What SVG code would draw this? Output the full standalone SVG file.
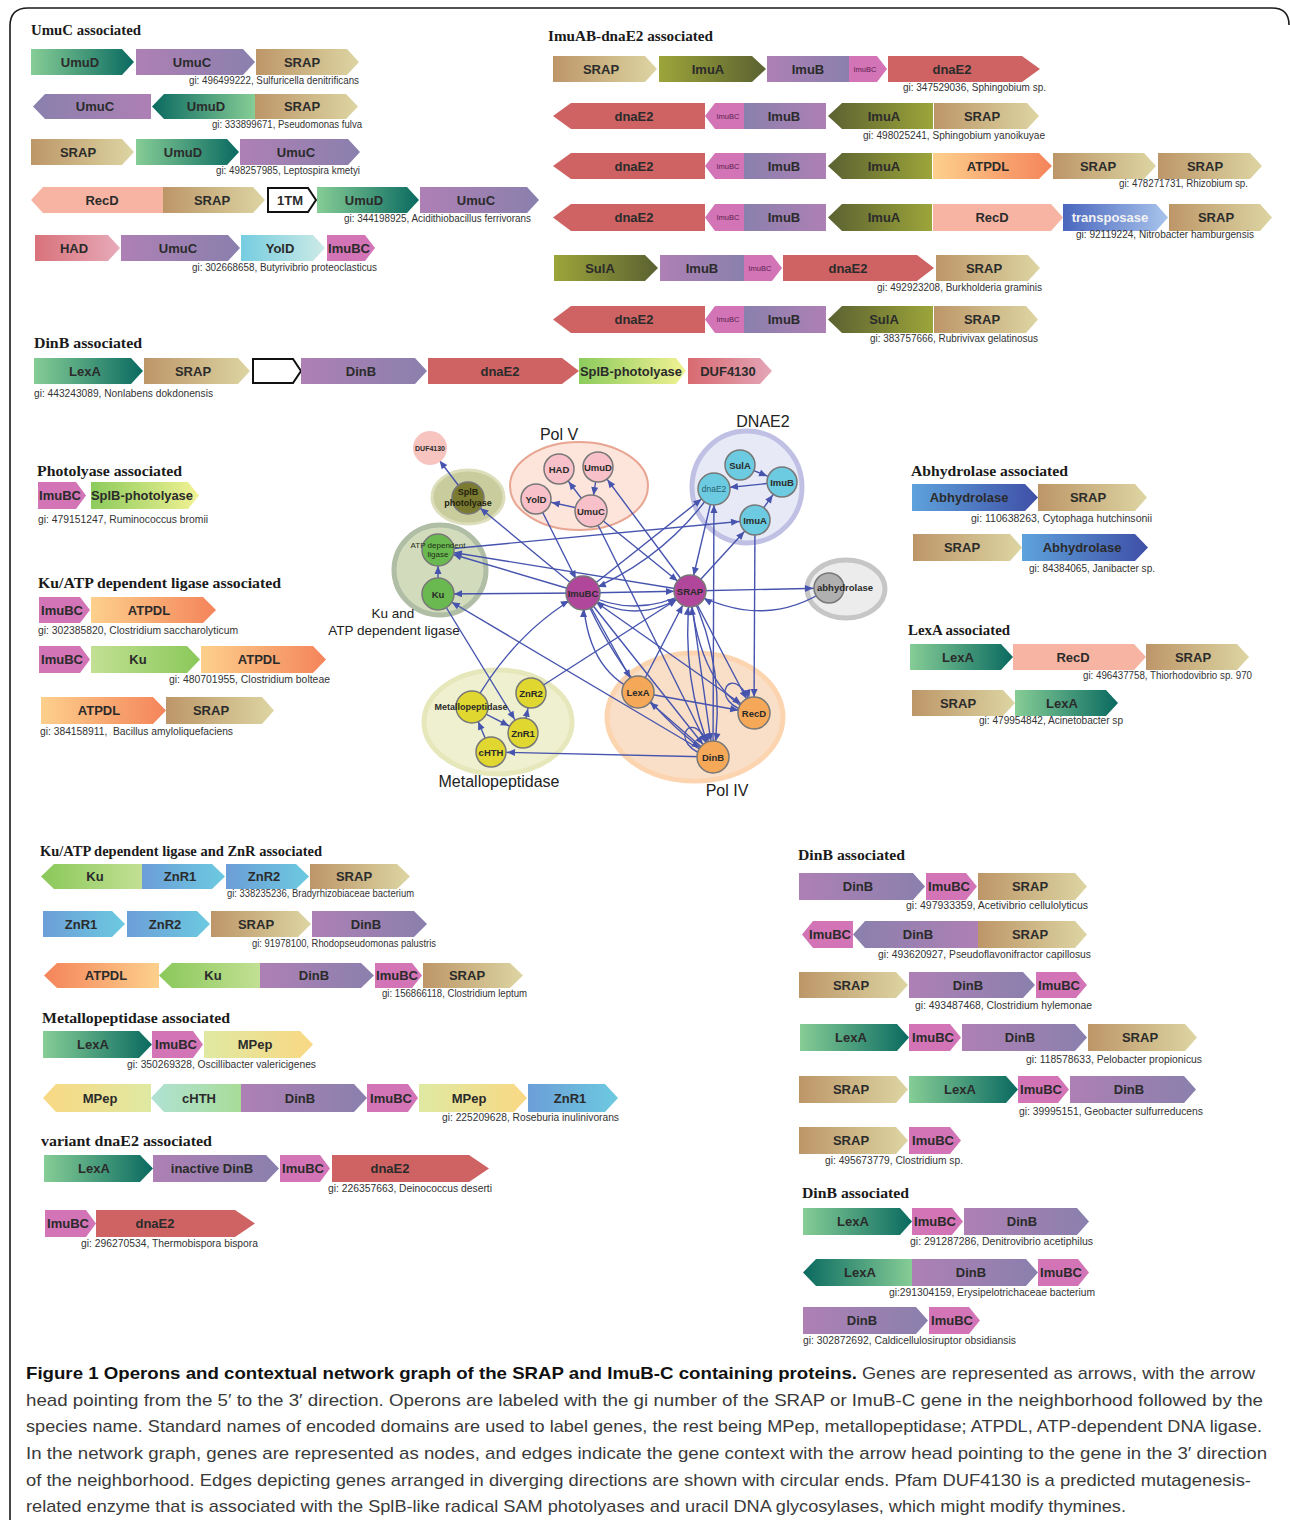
<svg xmlns="http://www.w3.org/2000/svg" width="1290" height="1520" viewBox="0 0 1290 1520">
<defs>
<linearGradient id="gLexR"><stop offset="0" stop-color="#86cd96"/><stop offset="1" stop-color="#0a6a60"/></linearGradient>
<linearGradient id="gLexL"><stop offset="0" stop-color="#0a6a60"/><stop offset="1" stop-color="#86cd96"/></linearGradient>
<linearGradient id="gPurR"><stop offset="0" stop-color="#ae80b5"/><stop offset="1" stop-color="#8a80ad"/></linearGradient>
<linearGradient id="gPurL"><stop offset="0" stop-color="#8a80ad"/><stop offset="1" stop-color="#ae80b5"/></linearGradient>
<linearGradient id="gSrap"><stop offset="0" stop-color="#bd9668"/><stop offset="1" stop-color="#ddd5a3"/></linearGradient>
<linearGradient id="gHad"><stop offset="0" stop-color="#d9727a"/><stop offset="1" stop-color="#e7aab9"/></linearGradient>
<linearGradient id="gDuf"><stop offset="0" stop-color="#d86a70"/><stop offset="1" stop-color="#e4a6b8"/></linearGradient>
<linearGradient id="gYold"><stop offset="0" stop-color="#75cde0"/><stop offset="1" stop-color="#cdeae6"/></linearGradient>
<linearGradient id="gOlvR"><stop offset="0" stop-color="#9ca53a"/><stop offset="1" stop-color="#5b6131"/></linearGradient>
<linearGradient id="gOlvL"><stop offset="0" stop-color="#5b6131"/><stop offset="1" stop-color="#9ca53a"/></linearGradient>
<linearGradient id="gAtpR"><stop offset="0" stop-color="#fdd08c"/><stop offset="1" stop-color="#f4845a"/></linearGradient>
<linearGradient id="gAtpL"><stop offset="0" stop-color="#f4845a"/><stop offset="1" stop-color="#fdd08c"/></linearGradient>
<linearGradient id="gTrans"><stop offset="0" stop-color="#4a66be"/><stop offset="1" stop-color="#a8c4ec"/></linearGradient>
<linearGradient id="gSplb"><stop offset="0" stop-color="#8ccb5c"/><stop offset="1" stop-color="#f2f294"/></linearGradient>
<linearGradient id="gAbh"><stop offset="0" stop-color="#5ea2dc"/><stop offset="1" stop-color="#3f4fa6"/></linearGradient>
<linearGradient id="gKuR"><stop offset="0" stop-color="#c2e093"/><stop offset="1" stop-color="#8ac85a"/></linearGradient>
<linearGradient id="gKuL"><stop offset="0" stop-color="#8ac85a"/><stop offset="1" stop-color="#c2e093"/></linearGradient>
<linearGradient id="gZnr"><stop offset="0" stop-color="#6c9ed8"/><stop offset="1" stop-color="#6ccae0"/></linearGradient>
<linearGradient id="gMpR"><stop offset="0" stop-color="#dfe9a2"/><stop offset="1" stop-color="#f9d884"/></linearGradient>
<linearGradient id="gMpL"><stop offset="0" stop-color="#f9d884"/><stop offset="1" stop-color="#dfe9a2"/></linearGradient>
<linearGradient id="gChth"><stop offset="0" stop-color="#b0e2d4"/><stop offset="1" stop-color="#a8dc98"/></linearGradient>
<marker id="ah" markerUnits="userSpaceOnUse" markerWidth="8" markerHeight="7" refX="24" refY="3.5" orient="auto" overflow="visible"><path d="M0,0 L8,3.5 L0,7 Z" fill="#4654ae"/></marker>
<style>
.gl{font-family:"Liberation Sans",Arial,sans-serif;font-weight:bold;font-size:13px;fill:#2b2b2b;text-anchor:middle}
.gs{font-family:"Liberation Sans",Arial,sans-serif;font-size:7.5px;fill:#5b2350;text-anchor:middle}
.gw{fill:#f2f2f2}
.gi{font-family:"Liberation Sans",Arial,sans-serif;font-size:10px;fill:#333}
.tt{font-family:"Liberation Serif","Times New Roman",serif;font-weight:bold;font-size:15px;fill:#1a1a1a}
.ib{fill:#d274b5}
.dn{fill:#cf6363}
.rd{fill:#f8b4a3}
.em{fill:#fff;stroke:#111;stroke-width:2}
.e{stroke:#4654ae;stroke-width:1.4;fill:none;marker-end:url(#ah)}
.nd{stroke:#777;stroke-width:1.5}
.nl{font-family:"Liberation Sans",Arial,sans-serif;font-weight:bold;font-size:9.5px;fill:#2a2a2a;text-anchor:middle}
.bl{font-family:"Liberation Sans",Arial,sans-serif;font-size:16px;fill:#222;text-anchor:middle}
.cap{font-family:"Liberation Sans",Arial,sans-serif;font-size:17px;fill:#3a3a3a}
.capb{font-family:"Liberation Sans",Arial,sans-serif;font-size:17px;font-weight:bold;fill:#111}
</style>
</defs>
<rect width="1290" height="1520" fill="#fff"/>
<path d="M10,1520 V26 Q10,8 28,8 H1272 Q1289,8 1289,25" fill="none" stroke="#1a1a1a" stroke-width="1.6"/>

<!-- Titles -->
<g id="titles">
<text class="tt" x="31" y="35" textLength="110" lengthAdjust="spacingAndGlyphs">UmuC associated</text>
<text class="tt" x="548" y="41" textLength="165" lengthAdjust="spacingAndGlyphs">ImuAB-dnaE2 associated</text>
<text class="tt" x="34" y="348" textLength="108" lengthAdjust="spacingAndGlyphs">DinB associated</text>
<text class="tt" x="37" y="476" textLength="145" lengthAdjust="spacingAndGlyphs">Photolyase associated</text>
<text class="tt" x="38" y="588" textLength="243" lengthAdjust="spacingAndGlyphs">Ku/ATP dependent ligase associated</text>
<text class="tt" x="911" y="476" textLength="157" lengthAdjust="spacingAndGlyphs">Abhydrolase associated</text>
<text class="tt" x="908" y="635" textLength="102" lengthAdjust="spacingAndGlyphs">LexA associated</text>
<text class="tt" x="40" y="856" textLength="282" lengthAdjust="spacingAndGlyphs">Ku/ATP dependent ligase and ZnR associated</text>
<text class="tt" x="42" y="1023" textLength="188" lengthAdjust="spacingAndGlyphs">Metallopeptidase associated</text>
<text class="tt" x="41" y="1146" textLength="171" lengthAdjust="spacingAndGlyphs">variant dnaE2 associated</text>
<text class="tt" x="798" y="860" textLength="107" lengthAdjust="spacingAndGlyphs">DinB associated</text>
<text class="tt" x="802" y="1198" textLength="107" lengthAdjust="spacingAndGlyphs">DinB associated</text>
</g>

<!-- UmuC associated -->
<g id="op-u1">
<g id="u1-umud"><path d="M31 49H122L134 62L122 75H31Z" fill="url(#gLexR)"/><text class="gl" x="80" y="66.5">UmuD</text></g>
<g id="u1-umuc"><path d="M136 49H243L255 62L243 75H136Z" fill="url(#gPurR)"/><text class="gl" x="192" y="66.5">UmuC</text></g>
<g id="u1-srap"><path d="M256 49H347L359 62L347 75H256Z" fill="url(#gSrap)"/><text class="gl" x="302" y="66.5">SRAP</text></g>
<text class="gi" x="189" y="84" textLength="170" lengthAdjust="spacingAndGlyphs">gi: 496499222, Sulfuricella denitrificans</text>
</g>
<g id="op-u2">
<g id="u2-umuc"><path d="M151 94H45L33 106.5L45 119H151Z" fill="url(#gPurL)"/><text class="gl" x="95" y="111">UmuC</text></g>
<g id="u2-umud"><path d="M255 94H164L152 106.5L164 119H255Z" fill="url(#gLexL)"/><text class="gl" x="206" y="111">UmuD</text></g>
<g id="u2-srap"><path d="M255 94H346L358 106.5L346 119H255Z" fill="url(#gSrap)"/><text class="gl" x="302" y="111">SRAP</text></g>
<text class="gi" x="212" y="128" textLength="150" lengthAdjust="spacingAndGlyphs">gi: 333899671, Pseudomonas fulva</text>
</g>
<g id="op-u3">
<g id="u3-srap"><path d="M31 139H122L134 152L122 165H31Z" fill="url(#gSrap)"/><text class="gl" x="78" y="156.5">SRAP</text></g>
<g id="u3-umud"><path d="M136 139H227L239 152L227 165H136Z" fill="url(#gLexR)"/><text class="gl" x="183" y="156.5">UmuD</text></g>
<g id="u3-umuc"><path d="M240 139H348L360 152L348 165H240Z" fill="url(#gPurR)"/><text class="gl" x="296" y="156.5">UmuC</text></g>
<text class="gi" x="216" y="174" textLength="144" lengthAdjust="spacingAndGlyphs">gi: 498257985, Leptospira kmetyi</text>
</g>
<g id="op-u4">
<g id="u4-recd"><path d="M163 187H43L31 200L43 213H163Z" class="rd"/><text class="gl" x="102" y="204.5">RecD</text></g>
<g id="u4-srap"><path d="M163 187H253L265 200L253 213H163Z" fill="url(#gSrap)"/><text class="gl" x="212" y="204.5">SRAP</text></g>
<g id="u4-1tm"><path d="M268 188H308L316 200L308 212H268Z" class="em"/><text class="gl" x="290" y="204.5">1TM</text></g>
<g id="u4-umud"><path d="M317 187H407L419 200L407 213H317Z" fill="url(#gLexR)"/><text class="gl" x="364" y="204.5">UmuD</text></g>
<g id="u4-umuc"><path d="M420 187H527L539 200L527 213H420Z" fill="url(#gPurR)"/><text class="gl" x="476" y="204.5">UmuC</text></g>
<text class="gi" x="344" y="222" textLength="187" lengthAdjust="spacingAndGlyphs">gi: 344198925, Acidithiobacillus ferrivorans</text>
</g>
<g id="op-u5">
<g id="u5-had"><path d="M35 235H108L120 248L108 261H35Z" fill="url(#gHad)"/><text class="gl" x="74" y="252.5">HAD</text></g>
<g id="u5-umuc"><path d="M121 235H228L240 248L228 261H121Z" fill="url(#gPurR)"/><text class="gl" x="178" y="252.5">UmuC</text></g>
<g id="u5-yold"><path d="M241 235H313L325 248L313 261H241Z" fill="url(#gYold)"/><text class="gl" x="280" y="252.5">YolD</text></g>
<g id="u5-imubc"><path d="M327 235H365L375 248L365 261H327Z" class="ib"/><text class="gl" x="349" y="252.5">ImuBC</text></g>
<text class="gi" x="192" y="271" textLength="185" lengthAdjust="spacingAndGlyphs">gi: 302668658, Butyrivibrio proteoclasticus</text>
</g>

<!-- ImuAB-dnaE2 associated -->
<g id="op-i1">
<g id="i1-srap"><path d="M553 56H645L657 69L645 82H553Z" fill="url(#gSrap)"/><text class="gl" x="601" y="73.5">SRAP</text></g>
<g id="i1-imua"><path d="M659 56H752L766 69L752 82H659Z" fill="url(#gOlvR)"/><text class="gl" x="708" y="73.5">ImuA</text></g>
<g id="i1-imub"><path d="M767 56H849V82H767Z" fill="url(#gPurR)"/><text class="gl" x="808" y="73.5">ImuB</text></g>
<g id="i1-imubc"><path d="M849 56H877L887 69L877 82H849Z" class="ib"/><text class="gs" x="865" y="71.5">ImuBC</text></g>
<g id="i1-dnae2"><path d="M888 56H1022L1040 69L1022 82H888Z" class="dn"/><text class="gl" x="952" y="73.5">dnaE2</text></g>
<text class="gi" x="903" y="91" textLength="143" lengthAdjust="spacingAndGlyphs">gi: 347529036, Sphingobium sp.</text>
</g>
<g id="op-i2">
<g id="i2-dnae2"><path d="M705 103H571L553 116L571 129H705Z" class="dn"/><text class="gl" x="634" y="120.5">dnaE2</text></g>
<g id="i2-imubc"><path d="M744 103H715L705 116L715 129H744Z" class="ib"/><text class="gs" x="728" y="118.5">ImuBC</text></g>
<g id="i2-imub"><path d="M744 103H826V129H744Z" fill="url(#gPurL)"/><text class="gl" x="784" y="120.5">ImuB</text></g>
<g id="i2-imua"><path d="M933 103H842L828 116L842 129H933Z" fill="url(#gOlvL)"/><text class="gl" x="884" y="120.5">ImuA</text></g>
<g id="i2-srap"><path d="M934 103H1027L1039 116L1027 129H934Z" fill="url(#gSrap)"/><text class="gl" x="982" y="120.5">SRAP</text></g>
<text class="gi" x="863" y="139" textLength="182" lengthAdjust="spacingAndGlyphs">gi: 498025241, Sphingobium yanoikuyae</text>
</g>
<g id="op-i3">
<g id="i3-dnae2"><path d="M705 153H571L553 166L571 179H705Z" class="dn"/><text class="gl" x="634" y="170.5">dnaE2</text></g>
<g id="i3-imubc"><path d="M744 153H715L705 166L715 179H744Z" class="ib"/><text class="gs" x="728" y="168.5">ImuBC</text></g>
<g id="i3-imub"><path d="M744 153H826V179H744Z" fill="url(#gPurL)"/><text class="gl" x="784" y="170.5">ImuB</text></g>
<g id="i3-imua"><path d="M932 153H842L828 166L842 179H932Z" fill="url(#gOlvL)"/><text class="gl" x="884" y="170.5">ImuA</text></g>
<g id="i3-atpdl"><path d="M933 153H1039L1052 166L1039 179H933Z" fill="url(#gAtpR)"/><text class="gl" x="988" y="170.5">ATPDL</text></g>
<g id="i3-srap1"><path d="M1053 153H1144L1156 166L1144 179H1053Z" fill="url(#gSrap)"/><text class="gl" x="1098" y="170.5">SRAP</text></g>
<g id="i3-srap2"><path d="M1158 153H1250L1262 166L1250 179H1158Z" fill="url(#gSrap)"/><text class="gl" x="1205" y="170.5">SRAP</text></g>
<text class="gi" x="1119" y="187" textLength="129" lengthAdjust="spacingAndGlyphs">gi: 478271731, Rhizobium sp.</text>
</g>
<g id="op-i4">
<g id="i4-dnae2"><path d="M705 204H571L553 217.5L571 231H705Z" class="dn"/><text class="gl" x="634" y="222">dnaE2</text></g>
<g id="i4-imubc"><path d="M744 204H715L705 217.5L715 231H744Z" class="ib"/><text class="gs" x="728" y="220">ImuBC</text></g>
<g id="i4-imub"><path d="M744 204H826V231H744Z" fill="url(#gPurL)"/><text class="gl" x="784" y="222">ImuB</text></g>
<g id="i4-imua"><path d="M932 204H842L828 217.5L842 231H932Z" fill="url(#gOlvL)"/><text class="gl" x="884" y="222">ImuA</text></g>
<g id="i4-recd"><path d="M933 204H1051L1063 217.5L1051 231H933Z" class="rd"/><text class="gl" x="992" y="222">RecD</text></g>
<g id="i4-trans"><path d="M1063 204H1156L1168 217.5L1156 231H1063Z" fill="url(#gTrans)"/><text class="gl gw" x="1110" y="222">transposase</text></g>
<g id="i4-srap"><path d="M1169 204H1260L1272 217.5L1260 231H1169Z" fill="url(#gSrap)"/><text class="gl" x="1216" y="222">SRAP</text></g>
<text class="gi" x="1076" y="238" textLength="178" lengthAdjust="spacingAndGlyphs">gi: 92119224, Nitrobacter hamburgensis</text>
</g>
<g id="op-i5">
<g id="i5-sula"><path d="M554 255H645L658 268L645 281H554Z" fill="url(#gOlvR)"/><text class="gl" x="600" y="272.5">SulA</text></g>
<g id="i5-imub"><path d="M660 255H744V281H660Z" fill="url(#gPurR)"/><text class="gl" x="702" y="272.5">ImuB</text></g>
<g id="i5-imubc"><path d="M744 255H772L782 268L772 281H744Z" class="ib"/><text class="gs" x="760" y="270.5">ImuBC</text></g>
<g id="i5-dnae2"><path d="M783 255H917L934 268L917 281H783Z" class="dn"/><text class="gl" x="848" y="272.5">dnaE2</text></g>
<g id="i5-srap"><path d="M936 255H1028L1040 268L1028 281H936Z" fill="url(#gSrap)"/><text class="gl" x="984" y="272.5">SRAP</text></g>
<text class="gi" x="877" y="291" textLength="165" lengthAdjust="spacingAndGlyphs">gi: 492923208, Burkholderia graminis</text>
</g>
<g id="op-i6">
<g id="i6-dnae2"><path d="M705 306H571L553 319.5L571 333H705Z" class="dn"/><text class="gl" x="634" y="324">dnaE2</text></g>
<g id="i6-imubc"><path d="M744 306H715L705 319.5L715 333H744Z" class="ib"/><text class="gs" x="728" y="322">ImuBC</text></g>
<g id="i6-imub"><path d="M744 306H826V333H744Z" fill="url(#gPurL)"/><text class="gl" x="784" y="324">ImuB</text></g>
<g id="i6-sula"><path d="M933 306H842L828 319.5L842 333H933Z" fill="url(#gOlvL)"/><text class="gl" x="884" y="324">SulA</text></g>
<g id="i6-srap"><path d="M934 306H1026L1038 319.5L1026 333H934Z" fill="url(#gSrap)"/><text class="gl" x="982" y="324">SRAP</text></g>
<text class="gi" x="870" y="342" textLength="168" lengthAdjust="spacingAndGlyphs">gi: 383757666, Rubrivivax gelatinosus</text>
</g>

<!-- DinB associated (left) -->
<g id="op-d0">
<g id="d0-lexa"><path d="M34 358H131L143 371L131 384H34Z" fill="url(#gLexR)"/><text class="gl" x="85" y="375.5">LexA</text></g>
<g id="d0-srap"><path d="M144 358H238L250 371L238 384H144Z" fill="url(#gSrap)"/><text class="gl" x="193" y="375.5">SRAP</text></g>
<g id="d0-empty"><path d="M253 359H293L301 371L293 383H253Z" class="em"/></g>
<g id="d0-dinb"><path d="M301 358H415L427 371L415 384H301Z" fill="url(#gPurR)"/><text class="gl" x="361" y="375.5">DinB</text></g>
<g id="d0-dnae2"><path d="M428 358H562L579 371L562 384H428Z" class="dn"/><text class="gl" x="500" y="375.5">dnaE2</text></g>
<g id="d0-splb"><path d="M579 358H676L686 371L676 384H579Z" fill="url(#gSplb)"/><text class="gl" x="631" y="375.5" textLength="102" lengthAdjust="spacingAndGlyphs">SplB-photolyase</text></g>
<g id="d0-duf"><path d="M688 358H760L772 371L760 384H688Z" fill="url(#gDuf)"/><text class="gl" x="728" y="375.5">DUF4130</text></g>
<text class="gi" x="34" y="397" textLength="179" lengthAdjust="spacingAndGlyphs">gi: 443243089, Nonlabens dokdonensis</text>
</g>

<!-- Photolyase -->
<g id="op-p1">
<g id="p1-imubc"><path d="M38 482H76L86 495.5L76 509H38Z" class="ib"/><text class="gl" x="60" y="500">ImuBC</text></g>
<g id="p1-splb"><path d="M91 482H188L199 495.5L188 509H91Z" fill="url(#gSplb)"/><text class="gl" x="142" y="500" textLength="102" lengthAdjust="spacingAndGlyphs">SplB-photolyase</text></g>
<text class="gi" x="38" y="523" textLength="170" lengthAdjust="spacingAndGlyphs">gi: 479151247, Ruminococcus bromii</text>
</g>

<!-- Ku/ATP -->
<g id="op-k1">
<g id="k1-imubc"><path d="M39 597H80L90 610L80 623H39Z" class="ib"/><text class="gl" x="62" y="614.5">ImuBC</text></g>
<g id="k1-atpdl"><path d="M91 597H203L216 610L203 623H91Z" fill="url(#gAtpR)"/><text class="gl" x="149" y="614.5">ATPDL</text></g>
<text class="gi" x="38" y="634" textLength="200" lengthAdjust="spacingAndGlyphs">gi: 302385820, Clostridium saccharolyticum</text>
</g>
<g id="op-k2">
<g id="k2-imubc"><path d="M39 646H80L90 659.5L80 673H39Z" class="ib"/><text class="gl" x="62" y="664">ImuBC</text></g>
<g id="k2-ku"><path d="M91 646H187L200 659.5L187 673H91Z" fill="url(#gKuR)"/><text class="gl" x="138" y="664">Ku</text></g>
<g id="k2-atpdl"><path d="M201 646H313L326 659.5L313 673H201Z" fill="url(#gAtpR)"/><text class="gl" x="259" y="664">ATPDL</text></g>
<text class="gi" x="169" y="683" textLength="161" lengthAdjust="spacingAndGlyphs">gi: 480701955, Clostridium bolteae</text>
</g>
<g id="op-k3">
<g id="k3-atpdl"><path d="M41 697H153L166 710.5L153 724H41Z" fill="url(#gAtpR)"/><text class="gl" x="99" y="715">ATPDL</text></g>
<g id="k3-srap"><path d="M166 697H262L274 710.5L262 724H166Z" fill="url(#gSrap)"/><text class="gl" x="211" y="715">SRAP</text></g>
<text class="gi" x="40" y="735" textLength="193" lengthAdjust="spacingAndGlyphs">gi: 384158911,&#160; Bacillus amyloliquefaciens</text>
</g>

<!-- Abhydrolase -->
<g id="op-a1">
<g id="a1-abh"><path d="M912 484H1025L1038 497.5L1025 511H912Z" fill="url(#gAbh)"/><text class="gl" x="969" y="502">Abhydrolase</text></g>
<g id="a1-srap"><path d="M1038 484H1135L1147 497.5L1135 511H1038Z" fill="url(#gSrap)"/><text class="gl" x="1088" y="502">SRAP</text></g>
<text class="gi" x="971" y="522" textLength="181" lengthAdjust="spacingAndGlyphs">gi: 110638263, Cytophaga hutchinsonii</text>
</g>
<g id="op-a2">
<g id="a2-srap"><path d="M913 534H1010L1022 547.5L1010 561H913Z" fill="url(#gSrap)"/><text class="gl" x="962" y="552">SRAP</text></g>
<g id="a2-abh"><path d="M1022 534H1135L1148 547.5L1135 561H1022Z" fill="url(#gAbh)"/><text class="gl" x="1082" y="552">Abhydrolase</text></g>
<text class="gi" x="1029" y="572" textLength="126" lengthAdjust="spacingAndGlyphs">gi: 84384065, Janibacter sp.</text>
</g>

<!-- LexA -->
<g id="op-l1">
<g id="l1-lexa"><path d="M910 644H1001L1013 657L1001 670H910Z" fill="url(#gLexR)"/><text class="gl" x="958" y="661.5">LexA</text></g>
<g id="l1-recd"><path d="M1013 644H1134L1146 657L1134 670H1013Z" class="rd"/><text class="gl" x="1073" y="661.5">RecD</text></g>
<g id="l1-srap"><path d="M1146 644H1237L1249 657L1237 670H1146Z" fill="url(#gSrap)"/><text class="gl" x="1193" y="661.5">SRAP</text></g>
<text class="gi" x="1083" y="679" textLength="169" lengthAdjust="spacingAndGlyphs">gi: 496437758, Thiorhodovibrio sp. 970</text>
</g>
<g id="op-l2">
<g id="l2-srap"><path d="M912 690H1003L1015 703L1003 716H912Z" fill="url(#gSrap)"/><text class="gl" x="958" y="707.5">SRAP</text></g>
<g id="l2-lexa"><path d="M1015 690H1106L1118 703L1106 716H1015Z" fill="url(#gLexR)"/><text class="gl" x="1062" y="707.5">LexA</text></g>
<text class="gi" x="979" y="724" textLength="144" lengthAdjust="spacingAndGlyphs">gi: 479954842, Acinetobacter sp</text>
</g>

<!-- Ku/ATP and ZnR -->
<g id="op-z1">
<g id="z1-ku"><path d="M142 864H54L41 876.5L54 889H142Z" fill="url(#gKuL)"/><text class="gl" x="95" y="881">Ku</text></g>
<g id="z1-znr1"><path d="M142 864H212L225 876.5L212 889H142Z" fill="url(#gZnr)"/><text class="gl" x="180" y="881">ZnR1</text></g>
<g id="z1-znr2"><path d="M226 864H296L309 876.5L296 889H226Z" fill="url(#gZnr)"/><text class="gl" x="264" y="881">ZnR2</text></g>
<g id="z1-srap"><path d="M310 864H397L410 876.5L397 889H310Z" fill="url(#gSrap)"/><text class="gl" x="354" y="881">SRAP</text></g>
<text class="gi" x="227" y="897" textLength="187" lengthAdjust="spacingAndGlyphs">gi: 338235236, Bradyrhizobiaceae bacterium</text>
</g>
<g id="op-z2">
<g id="z2-znr1"><path d="M43 911H112L125 924L112 937H43Z" fill="url(#gZnr)"/><text class="gl" x="81" y="928.5">ZnR1</text></g>
<g id="z2-znr2"><path d="M127 911H197L210 924L197 937H127Z" fill="url(#gZnr)"/><text class="gl" x="165" y="928.5">ZnR2</text></g>
<g id="z2-srap"><path d="M211 911H298L311 924L298 937H211Z" fill="url(#gSrap)"/><text class="gl" x="256" y="928.5">SRAP</text></g>
<g id="z2-dinb"><path d="M312 911H414L427 924L414 937H312Z" fill="url(#gPurR)"/><text class="gl" x="366" y="928.5">DinB</text></g>
<text class="gi" x="252" y="947" textLength="184" lengthAdjust="spacingAndGlyphs">gi: 91978100, Rhodopseudomonas palustris</text>
</g>
<g id="op-z3">
<g id="z3-atpdl"><path d="M159 963H57L44 975.5L57 988H159Z" fill="url(#gAtpL)"/><text class="gl" x="106" y="980">ATPDL</text></g>
<g id="z3-ku"><path d="M260 963H172L159 975.5L172 988H260Z" fill="url(#gKuL)"/><text class="gl" x="213" y="980">Ku</text></g>
<g id="z3-dinb"><path d="M260 963H361L374 975.5L361 988H260Z" fill="url(#gPurR)"/><text class="gl" x="314" y="980">DinB</text></g>
<g id="z3-imubc"><path d="M375 963H412L422 975.5L412 988H375Z" class="ib"/><text class="gl" x="397" y="980">ImuBC</text></g>
<g id="z3-srap"><path d="M423 963H510L523 975.5L510 988H423Z" fill="url(#gSrap)"/><text class="gl" x="467" y="980">SRAP</text></g>
<text class="gi" x="382" y="997" textLength="145" lengthAdjust="spacingAndGlyphs">gi: 156866118, Clostridium leptum</text>
</g>

<!-- Metallopeptidase -->
<g id="op-m1">
<g id="m1-lexa"><path d="M43 1031H139L152 1044.5L139 1058H43Z" fill="url(#gLexR)"/><text class="gl" x="93" y="1049">LexA</text></g>
<g id="m1-imubc"><path d="M152 1031H193L203 1044.5L193 1058H152Z" class="ib"/><text class="gl" x="176" y="1049">ImuBC</text></g>
<g id="m1-mpep"><path d="M204 1031H300L313 1044.5L300 1058H204Z" fill="url(#gMpR)"/><text class="gl" x="255" y="1049">MPep</text></g>
<text class="gi" x="127" y="1068" textLength="189" lengthAdjust="spacingAndGlyphs">gi: 350269328, Oscillibacter valericigenes</text>
</g>
<g id="op-m2">
<g id="m2-mpep1"><path d="M151 1084H56L43 1098L56 1112H151Z" fill="url(#gMpL)"/><text class="gl" x="100" y="1102.5">MPep</text></g>
<g id="m2-chth"><path d="M241 1084H164L151 1098L164 1112H241Z" fill="url(#gChth)"/><text class="gl" x="199" y="1102.5">cHTH</text></g>
<g id="m2-dinb"><path d="M241 1084H354L367 1098L354 1112H241Z" fill="url(#gPurR)"/><text class="gl" x="300" y="1102.5">DinB</text></g>
<g id="m2-imubc"><path d="M367 1084H408L418 1098L408 1112H367Z" class="ib"/><text class="gl" x="391" y="1102.5">ImuBC</text></g>
<g id="m2-mpep2"><path d="M419 1084H514L527 1098L514 1112H419Z" fill="url(#gMpR)"/><text class="gl" x="469" y="1102.5">MPep</text></g>
<g id="m2-znr1"><path d="M528 1084H605L618 1098L605 1112H528Z" fill="url(#gZnr)"/><text class="gl" x="570" y="1102.5">ZnR1</text></g>
<text class="gi" x="442" y="1121" textLength="177" lengthAdjust="spacingAndGlyphs">gi: 225209628, Roseburia inulinivorans</text>
</g>

<!-- variant dnaE2 -->
<g id="op-v1">
<g id="v1-lexa"><path d="M44 1155H140L153 1168.5L140 1182H44Z" fill="url(#gLexR)"/><text class="gl" x="94" y="1173">LexA</text></g>
<g id="v1-idinb"><path d="M153 1155H266L279 1168.5L266 1182H153Z" fill="url(#gPurR)"/><text class="gl" x="212" y="1173">inactive DinB</text></g>
<g id="v1-imubc"><path d="M280 1155H320L330 1168.5L320 1182H280Z" class="ib"/><text class="gl" x="303" y="1173">ImuBC</text></g>
<g id="v1-dnae2"><path d="M332 1155H469L489 1168.5L469 1182H332Z" class="dn"/><text class="gl" x="390" y="1173">dnaE2</text></g>
<text class="gi" x="328" y="1192" textLength="164" lengthAdjust="spacingAndGlyphs">gi: 226357663, Deinococcus deserti</text>
</g>
<g id="op-v2">
<g id="v2-imubc"><path d="M45 1210H86L96 1223.5L86 1237H45Z" class="ib"/><text class="gl" x="68" y="1228">ImuBC</text></g>
<g id="v2-dnae2"><path d="M96 1210H235L255 1223.5L235 1237H96Z" class="dn"/><text class="gl" x="155" y="1228">dnaE2</text></g>
<text class="gi" x="81" y="1247" textLength="177" lengthAdjust="spacingAndGlyphs">gi: 296270534, Thermobispora bispora</text>
</g>

<!-- DinB associated (right) -->
<g id="op-r1">
<g id="r1-dinb"><path d="M799 873H913L925 886.5L913 900H799Z" fill="url(#gPurR)"/><text class="gl" x="858" y="891">DinB</text></g>
<g id="r1-imubc"><path d="M926 873H966L977 886.5L966 900H926Z" class="ib"/><text class="gl" x="949" y="891">ImuBC</text></g>
<g id="r1-srap"><path d="M978 873H1075L1087 886.5L1075 900H978Z" fill="url(#gSrap)"/><text class="gl" x="1030" y="891">SRAP</text></g>
<text class="gi" x="906" y="909" textLength="182" lengthAdjust="spacingAndGlyphs">gi: 497933359, Acetivibrio cellulolyticus</text>
</g>
<g id="op-r2">
<g id="r2-imubc"><path d="M853 921H813L802 934.5L813 948H853Z" class="ib"/><text class="gl" x="830" y="939">ImuBC</text></g>
<g id="r2-dinb"><path d="M978 921H865L853 934.5L865 948H978Z" fill="url(#gPurL)"/><text class="gl" x="918" y="939">DinB</text></g>
<g id="r2-srap"><path d="M978 921H1075L1087 934.5L1075 948H978Z" fill="url(#gSrap)"/><text class="gl" x="1030" y="939">SRAP</text></g>
<text class="gi" x="878" y="958" textLength="213" lengthAdjust="spacingAndGlyphs">gi: 493620927, Pseudoflavonifractor capillosus</text>
</g>
<g id="op-r3">
<g id="r3-srap"><path d="M799 972H896L908 985L896 998H799Z" fill="url(#gSrap)"/><text class="gl" x="851" y="989.5">SRAP</text></g>
<g id="r3-dinb"><path d="M909 972H1023L1035 985L1023 998H909Z" fill="url(#gPurR)"/><text class="gl" x="968" y="989.5">DinB</text></g>
<g id="r3-imubc"><path d="M1036 972H1076L1087 985L1076 998H1036Z" class="ib"/><text class="gl" x="1059" y="989.5">ImuBC</text></g>
<text class="gi" x="915" y="1009" textLength="177" lengthAdjust="spacingAndGlyphs">gi: 493487468, Clostridium hylemonae</text>
</g>
<g id="op-r4">
<g id="r4-lexa"><path d="M800 1024H897L909 1037.5L897 1051H800Z" fill="url(#gLexR)"/><text class="gl" x="851" y="1042">LexA</text></g>
<g id="r4-imubc"><path d="M909 1024H950L961 1037.5L950 1051H909Z" class="ib"/><text class="gl" x="933" y="1042">ImuBC</text></g>
<g id="r4-dinb"><path d="M962 1024H1075L1087 1037.5L1075 1051H962Z" fill="url(#gPurR)"/><text class="gl" x="1020" y="1042">DinB</text></g>
<g id="r4-srap"><path d="M1088 1024H1185L1197 1037.5L1185 1051H1088Z" fill="url(#gSrap)"/><text class="gl" x="1140" y="1042">SRAP</text></g>
<text class="gi" x="1026" y="1063" textLength="176" lengthAdjust="spacingAndGlyphs">gi: 118578633, Pelobacter propionicus</text>
</g>
<g id="op-r5">
<g id="r5-srap"><path d="M799 1076H896L908 1089.5L896 1103H799Z" fill="url(#gSrap)"/><text class="gl" x="851" y="1094">SRAP</text></g>
<g id="r5-lexa"><path d="M909 1076H1006L1018 1089.5L1006 1103H909Z" fill="url(#gLexR)"/><text class="gl" x="960" y="1094">LexA</text></g>
<g id="r5-imubc"><path d="M1018 1076H1058L1069 1089.5L1058 1103H1018Z" class="ib"/><text class="gl" x="1041" y="1094">ImuBC</text></g>
<g id="r5-dinb"><path d="M1070 1076H1184L1196 1089.5L1184 1103H1070Z" fill="url(#gPurR)"/><text class="gl" x="1129" y="1094">DinB</text></g>
<text class="gi" x="1019" y="1115" textLength="184" lengthAdjust="spacingAndGlyphs">gi: 39995151, Geobacter sulfurreducens</text>
</g>
<g id="op-r6">
<g id="r6-srap"><path d="M799 1127H896L908 1140.5L896 1154H799Z" fill="url(#gSrap)"/><text class="gl" x="851" y="1145">SRAP</text></g>
<g id="r6-imubc"><path d="M909 1127H950L961 1140.5L950 1154H909Z" class="ib"/><text class="gl" x="933" y="1145">ImuBC</text></g>
<text class="gi" x="825" y="1164" textLength="138" lengthAdjust="spacingAndGlyphs">gi: 495673779, Clostridium sp.</text>
</g>
<g id="op-r7">
<g id="r7-lexa"><path d="M803 1208H900L912 1221.5L900 1235H803Z" fill="url(#gLexR)"/><text class="gl" x="853" y="1226">LexA</text></g>
<g id="r7-imubc"><path d="M912 1208H952L963 1221.5L952 1235H912Z" class="ib"/><text class="gl" x="935" y="1226">ImuBC</text></g>
<g id="r7-dinb"><path d="M964 1208H1077L1089 1221.5L1077 1235H964Z" fill="url(#gPurR)"/><text class="gl" x="1022" y="1226">DinB</text></g>
<text class="gi" x="910" y="1245" textLength="183" lengthAdjust="spacingAndGlyphs">gi: 291287286, Denitrovibrio acetiphilus</text>
</g>
<g id="op-r8">
<g id="r8-lexa"><path d="M912 1259H816L803 1272.5L816 1286H912Z" fill="url(#gLexL)"/><text class="gl" x="860" y="1277">LexA</text></g>
<g id="r8-dinb"><path d="M912 1259H1026L1038 1272.5L1026 1286H912Z" fill="url(#gPurR)"/><text class="gl" x="971" y="1277">DinB</text></g>
<g id="r8-imubc"><path d="M1038 1259H1078L1089 1272.5L1078 1286H1038Z" class="ib"/><text class="gl" x="1061" y="1277">ImuBC</text></g>
<text class="gi" x="889" y="1296" textLength="206" lengthAdjust="spacingAndGlyphs">gi:291304159, Erysipelotrichaceae bacterium</text>
</g>
<g id="op-r9">
<g id="r9-dinb"><path d="M803 1307H916L928 1320.5L916 1334H803Z" fill="url(#gPurR)"/><text class="gl" x="862" y="1325">DinB</text></g>
<g id="r9-imubc"><path d="M929 1307H969L980 1320.5L969 1334H929Z" class="ib"/><text class="gl" x="952" y="1325">ImuBC</text></g>
<text class="gi" x="803" y="1344" textLength="213" lengthAdjust="spacingAndGlyphs">gi: 302872692, Caldicellulosiruptor obsidiansis</text>
</g>

<!-- Network: cluster backgrounds -->
<g id="clusters">
<ellipse cx="468" cy="497" rx="36" ry="27" fill="#c9cc9c" stroke="#dcdebc" stroke-width="3"/>
<ellipse cx="579" cy="486" rx="69" ry="44" fill="#fde5dc" stroke="#e8a592" stroke-width="2"/>
<ellipse cx="747" cy="487" rx="55" ry="56" fill="#e7e9f6" stroke="#c0c0e4" stroke-width="5"/>
<ellipse cx="440" cy="570" rx="46" ry="45" fill="#d3dbbd" stroke="#b0bea6" stroke-width="5"/>
<ellipse cx="846" cy="589" rx="39" ry="29" fill="#ececec" stroke="#c6c6c6" stroke-width="5"/>
<ellipse cx="498" cy="722" rx="74" ry="52" fill="#eff0cf" stroke="#e6e8bc" stroke-width="5"/>
<ellipse cx="695" cy="717" rx="88" ry="64" fill="#f9dfc8" stroke="#fcd4b0" stroke-width="5"/>
</g>
<g id="cluster-labels">
<text class="bl" x="559" y="440">Pol V</text>
<text class="bl" x="763" y="427">DNAE2</text>
<text class="bl" x="393" y="618" style="font-size:13.5px">Ku and</text>
<text class="bl" x="394" y="635" style="font-size:13.5px">ATP dependent ligase</text>
<text class="bl" x="499" y="787">Metallopeptidase</text>
<text class="bl" x="727" y="796">Pol IV</text>
</g>

<!-- Network edges -->
<g id="connectors">
<line class="e" x1="468" y1="498" x2="430" y2="448"/>
<line class="e" x1="583" y1="593" x2="468" y2="498"/>
<line class="e" x1="598" y1="467" x2="591" y2="511"/>
<line class="e" x1="591" y1="511" x2="559" y2="469"/>
<line class="e" x1="591" y1="511" x2="536" y2="499"/>
<line class="e" x1="536" y1="499" x2="583" y2="593"/>
<line class="e" x1="690" y1="591" x2="598" y2="467"/>
<line class="e" x1="591" y1="511" x2="690" y2="591"/>
<line class="e" x1="591" y1="511" x2="713" y2="757"/>
<line class="e" x1="438" y1="550" x2="755" y2="520"/>
<line class="e" x1="583" y1="593" x2="438" y2="550"/>
<line class="e" x1="690" y1="591" x2="438" y2="550"/>
<line class="e" x1="438" y1="594" x2="438" y2="550"/>
<line class="e" x1="583" y1="593" x2="438" y2="594"/>
<line class="e" x1="713" y1="757" x2="438" y2="594"/>
<line class="e" x1="438" y1="594" x2="523" y2="733"/>
<path class="e" d="M472,707 Q515,630 583,593"/>
<line class="e" x1="531" y1="693" x2="690" y2="591"/>
<line class="e" x1="472" y1="707" x2="523" y2="733"/>
<line class="e" x1="523" y1="733" x2="531" y2="693"/>
<line class="e" x1="491" y1="752" x2="472" y2="707"/>
<line class="e" x1="713" y1="757" x2="491" y2="752"/>
<line class="e" x1="583" y1="593" x2="690" y2="591"/>
<path class="e" d="M690,591 Q636,630 583,593"/>
<path class="e" d="M583,593 Q636,620 690,591"/>
<line class="e" x1="690" y1="591" x2="829" y2="588"/>
<path class="e" d="M829,588 Q765,632 690,591"/>
<line class="e" x1="583" y1="593" x2="714" y2="489"/>
<path class="e" d="M714,489 Q665,560 583,593"/>
<line class="e" x1="714" y1="489" x2="690" y2="591"/>
<line class="e" x1="690" y1="591" x2="755" y2="520"/>
<line class="e" x1="782" y1="482" x2="714" y2="489"/>
<line class="e" x1="740" y1="465" x2="782" y2="482"/>
<line class="e" x1="755" y1="520" x2="782" y2="482"/>
<line class="e" x1="713" y1="757" x2="714" y2="489"/>
<line class="e" x1="755" y1="520" x2="754" y2="713"/>
<line class="e" x1="583" y1="593" x2="638" y2="692"/>
<line class="e" x1="583" y1="593" x2="713" y2="757"/>
<path class="e" d="M583,593 Q630,700 713,757"/>
<line class="e" x1="583" y1="593" x2="754" y2="713"/>
<path class="e" d="M638,692 Q585,670 583,593"/>
<line class="e" x1="638" y1="692" x2="690" y2="591"/>
<line class="e" x1="690" y1="591" x2="713" y2="757"/>
<path class="e" d="M713,757 Q680,680 690,591"/>
<path class="e" d="M690,591 Q728,670 713,757"/>
<line class="e" x1="690" y1="591" x2="754" y2="713"/>
<path class="e" d="M754,713 Q700,690 690,591"/>
<line class="e" x1="638" y1="692" x2="754" y2="713"/>
<line class="e" x1="713" y1="757" x2="638" y2="692"/>
<path class="e" d="M754,713 C700,705 735,650 754,713"/>
<path class="e" d="M713,757 C660,748 695,695 713,757"/>
</g>

<!-- Network nodes -->
<g id="n-duf"><circle cx="430" cy="448" r="17" fill="#f7c4c0"/><text class="nl" x="430" y="450.5" style="font-size:7px">DUF4130</text></g>
<g id="n-splb"><circle class="nd" cx="468" cy="498" r="16" fill="#7a7a30"/><text class="nl" x="468" y="495" style="font-size:9px;fill:#23230e">SplB</text><text class="nl" x="468" y="506" style="font-size:9px;fill:#23230e">photolyase</text></g>
<g id="n-had"><circle class="nd" cx="559" cy="469" r="15" fill="#f8c0c8"/><text class="nl" x="559" y="472.5">HAD</text></g>
<g id="n-umud"><circle class="nd" cx="598" cy="467" r="15" fill="#f8c0c8"/><text class="nl" x="598" y="470.5">UmuD</text></g>
<g id="n-yold"><circle class="nd" cx="536" cy="499" r="15" fill="#f8c0c8"/><text class="nl" x="536" y="502.5">YolD</text></g>
<g id="n-umuc"><circle class="nd" cx="591" cy="511" r="16" fill="#f8c0c8"/><text class="nl" x="591" y="514.5">UmuC</text></g>
<g id="n-sula"><circle class="nd" cx="740" cy="465" r="15" fill="#6ccbe0"/><text class="nl" x="740" y="468.5">SulA</text></g>
<g id="n-imub"><circle class="nd" cx="782" cy="482" r="15" fill="#6ccbe0"/><text class="nl" x="782" y="485.5">ImuB</text></g>
<g id="n-dnae2"><circle class="nd" cx="714" cy="489" r="16" fill="#6ccbe0"/><text class="nl" x="714" y="492" style="font-weight:normal;font-size:8.5px;fill:#2a5e70">dnaE2</text></g>
<g id="n-imua"><circle class="nd" cx="755" cy="520" r="15" fill="#6ccbe0"/><text class="nl" x="755" y="523.5">ImuA</text></g>
<g id="n-atpl"><circle class="nd" cx="438" cy="550" r="16" fill="#6ab850"/><text class="nl" x="438" y="548" style="font-size:8px;font-weight:normal;fill:#1e2e14">ATP dependent</text><text class="nl" x="438" y="557" style="font-size:8px;font-weight:normal;fill:#1e2e14">ligase</text></g>
<g id="n-ku"><circle class="nd" cx="438" cy="594" r="16" fill="#6ab850"/><text class="nl" x="438" y="597.5">Ku</text></g>
<g id="n-imubc"><circle class="nd" cx="583" cy="593" r="17" fill="#b0479a"/><text class="nl" x="583" y="596.5">ImuBC</text></g>
<g id="n-srap"><circle class="nd" cx="690" cy="591" r="16" fill="#b0479a"/><text class="nl" x="690" y="594.5">SRAP</text></g>
<g id="n-abh"><circle class="nd" cx="829" cy="588" r="15" fill="#b0b0b0"/><text class="nl" x="845" y="591">abhydrolase</text></g>
<g id="n-metallo"><circle class="nd" cx="472" cy="707" r="16" fill="#e0d830"/><text class="nl" x="471" y="710" style="font-size:9px">Metallopeptidase</text></g>
<g id="n-znr2"><circle class="nd" cx="531" cy="693" r="15" fill="#e0d830"/><text class="nl" x="531" y="696.5">ZnR2</text></g>
<g id="n-znr1"><circle class="nd" cx="523" cy="733" r="15" fill="#e0d830"/><text class="nl" x="523" y="736.5">ZnR1</text></g>
<g id="n-chth"><circle class="nd" cx="491" cy="752" r="15" fill="#e0d830"/><text class="nl" x="491" y="755.5">cHTH</text></g>
<g id="n-lexa"><circle class="nd" cx="638" cy="692" r="16" fill="#f4a858"/><text class="nl" x="638" y="695.5">LexA</text></g>
<g id="n-recd"><circle class="nd" cx="754" cy="713" r="16" fill="#f4a858"/><text class="nl" x="754" y="716.5">RecD</text></g>
<g id="n-dinb"><circle class="nd" cx="713" cy="757" r="16" fill="#f4a858"/><text class="nl" x="713" y="760.5">DinB</text></g>

<!-- Caption -->
<g id="caption">
<text class="capb" x="26" y="1379" textLength="831" lengthAdjust="spacingAndGlyphs">Figure 1 Operons and contextual network graph of the SRAP and ImuB-C containing proteins.</text>
<text class="cap" x="862" y="1379" textLength="393" lengthAdjust="spacingAndGlyphs">Genes are represented as arrows, with the arrow</text>
<text class="cap" x="26" y="1405.5" textLength="1237" lengthAdjust="spacingAndGlyphs">head pointing from the 5′ to the 3′ direction. Operons are labeled with the gi number of the SRAP or ImuB-C gene in the neighborhood followed by the</text>
<text class="cap" x="26" y="1432" textLength="1236" lengthAdjust="spacingAndGlyphs">species name. Standard names of encoded domains are used to label genes, the rest being MPep, metallopeptidase; ATPDL, ATP-dependent DNA ligase.</text>
<text class="cap" x="26" y="1459" textLength="1241" lengthAdjust="spacingAndGlyphs">In the network graph, genes are represented as nodes, and edges indicate the gene context with the arrow head pointing to the gene in the 3′ direction</text>
<text class="cap" x="26" y="1485.5" textLength="1225" lengthAdjust="spacingAndGlyphs">of the neighborhood. Edges depicting genes arranged in diverging directions are shown with circular ends. Pfam DUF4130 is a predicted mutagenesis-</text>
<text class="cap" x="26" y="1512" textLength="1100" lengthAdjust="spacingAndGlyphs">related enzyme that is associated with the SplB-like radical SAM photolyases and uracil DNA glycosylases, which might modify thymines.</text>
</g>
</svg>
